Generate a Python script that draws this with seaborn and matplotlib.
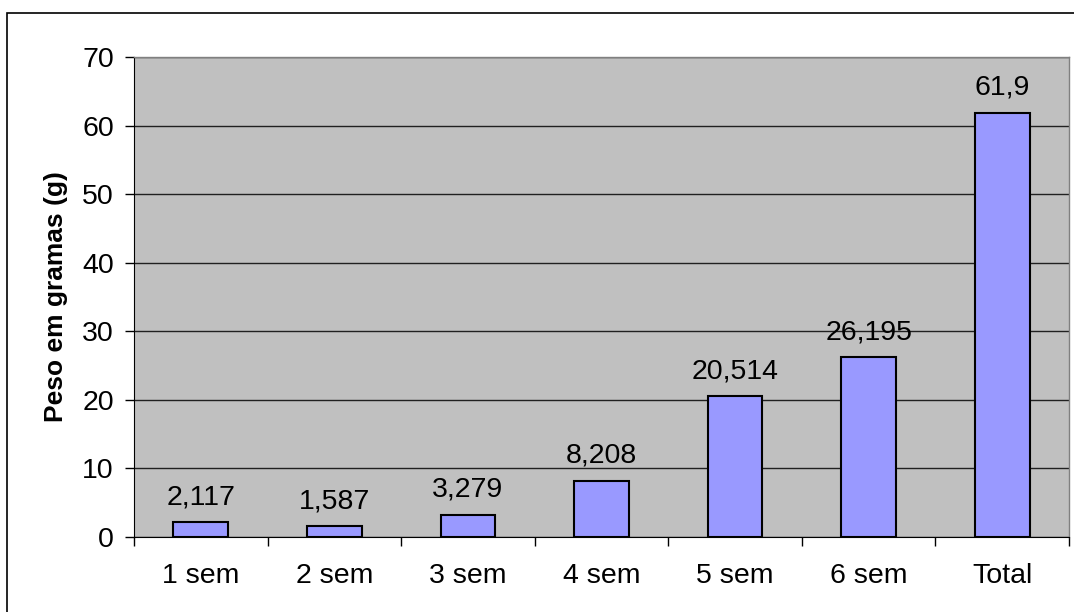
import pandas as pd
import matplotlib
matplotlib.use("Agg")
import matplotlib.pyplot as plt
import seaborn as sns
from matplotlib.patches import Rectangle

# data
semanas = ["1 sem", "2 sem", "3 sem", "4 sem", "5 sem", "6 sem", "Total"]
peso = [2.117, 1.587, 3.279, 8.208, 20.514, 26.195, 61.9]
rotulos = ["2,117", "1,587", "3,279", "8,208", "20,514", "26,195", "61,9"]

sns.set_style("white")
plt.rcParams['font.family'] = ['Liberation Sans', 'DejaVu Sans']
plt.rcParams.update({'text.color': 'black', 'axes.labelcolor': 'black',
                     'xtick.color': 'black', 'ytick.color': 'black'})

df = pd.DataFrame({"semana": semanas, "peso": peso})

fig = plt.figure(figsize=(10.74, 6.12), dpi=100)
ax = fig.add_axes([134 / 1074, 1 - 537 / 612, (1069 - 134) / 1074, (537 - 57) / 612])

# outer chart border
fig.patches.append(Rectangle((7 / 1074, -0.05), 1.0, 1.05 - 13 / 612,
                             transform=fig.transFigure, fill=False,
                             edgecolor='black', linewidth=1.2))

ax.set_facecolor('#C0C0C0')
sns.barplot(data=df, x="semana", y="peso", ax=ax, color='#9999FF',
            edgecolor='black', linewidth=1.5, width=0.41, saturation=1)

for i, (v, t) in enumerate(zip(peso, rotulos)):
    ax.text(i, v + 2.6, t, ha='center', va='baseline', fontsize=20.5)

ax.set_ylim(0, 70)
ax.set_xlim(-0.5, len(semanas) - 0.5)
ax.set_yticks(range(0, 71, 10))
ax.yaxis.grid(True, color='#202020', linewidth=1)
ax.set_axisbelow(True)
ax.set_xticks([i - 0.5 for i in range(len(semanas) + 1)], minor=False)
ax.set_xticklabels([""] * (len(semanas) + 1))
ax.set_xticks(range(len(semanas)), minor=True)
ax.set_xticklabels(semanas, minor=True)
ax.tick_params(axis='x', which='major', direction='out', length=6.5, width=1, bottom=True)
ax.tick_params(axis='x', which='minor', length=0, labelsize=20.5, pad=19)
ax.tick_params(axis='y', direction='out', length=6.5, width=1, left=True, labelsize=20.5, pad=8)

ax.set_xlabel("")
ax.set_ylabel("Peso em gramas (g)", fontsize=19, fontweight='bold', labelpad=10)

for side in ['top', 'right']:
    ax.spines[side].set_color('#808080')
    ax.spines[side].set_linewidth(1)
ax.spines['left'].set_color('black')
ax.spines['bottom'].set_color('black')

plt.savefig('out.png', dpi=100)
